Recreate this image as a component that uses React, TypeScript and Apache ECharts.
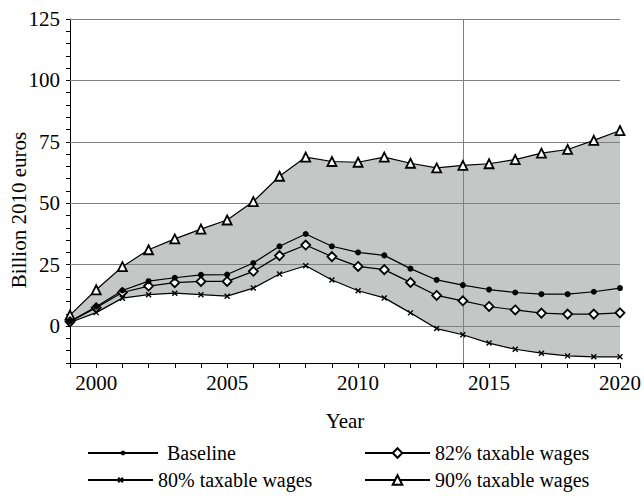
import React, { useEffect, useRef } from "react";
import * as echarts from "echarts";

const years = [1999, 2000, 2001, 2002, 2003, 2004, 2005, 2006, 2007, 2008, 2009, 2010, 2011, 2012, 2013, 2014, 2015, 2016, 2017, 2018, 2019, 2020];
const baseline = [2.0, 7.9, 14.5, 18.3, 19.7, 20.9, 21.0, 25.7, 32.5, 37.5, 32.5, 30.0, 28.8, 23.4, 18.8, 16.7, 14.9, 13.7, 13.0, 13.0, 14.0, 15.5];
const pct82 = [1.8, 7.5, 13.7, 16.3, 17.7, 18.2, 18.2, 22.3, 28.7, 33.0, 28.3, 24.3, 23.0, 17.8, 12.5, 10.3, 8.0, 6.6, 5.3, 4.9, 4.9, 5.4];
const pct80 = [1.5, 5.5, 11.4, 12.8, 13.4, 12.8, 12.2, 15.5, 21.2, 24.6, 18.8, 14.4, 11.5, 5.4, -1.0, -3.5, -6.9, -9.4, -11.0, -12.1, -12.5, -12.5];
const pct90 = [4.5, 14.8, 24.2, 31.1, 35.5, 39.5, 43.2, 50.7, 61.0, 68.8, 67.0, 66.7, 68.8, 66.3, 64.4, 65.4, 66.1, 67.8, 70.4, 71.9, 75.6, 79.6];
const gridValues = [0, 25, 50, 75, 100, 125];
const dividerYear = "2014";

const FONT = '"Liberation Serif", "Times New Roman", serif';

export default function App() {
  const ref = useRef<HTMLDivElement>(null);
  useEffect(() => {
    if (!ref.current) return;
    const chart = echarts.init(ref.current, null, { renderer: "svg" });
    const cats = years.map(String);
    const band = pct90.map((v, i) => +(v - pct80[i]).toFixed(2));
    const text = { fontFamily: FONT, fontSize: 21, color: "#000" };
    const legendText = { fontFamily: FONT, fontSize: 20, color: "#000" };
    const option: any = {
      animation: false,
      grid: { left: 70, right: 22, top: 19, bottom: 133 },
      xAxis: {
        type: "category",
        data: cats,
        boundaryGap: false,
        axisLine: { onZero: false, lineStyle: { color: "#000", width: 1 } },
        axisTick: { show: true, interval: 0, length: 5, lineStyle: { color: "#000" } },
        axisLabel: { ...text, interval: (_i: number, v: string) => Number(v) % 5 === 0, margin: 9 },
        splitLine: { show: false },
        name: "Year",
        nameLocation: "middle",
        nameGap: 47,
        nameTextStyle: text,
      },
      yAxis: {
        type: "value",
        min: -15,
        max: 125,
        interval: 5,
        axisLine: { show: true, lineStyle: { color: "#000", width: 1 } },
        axisTick: { show: true, length: 4, lineStyle: { color: "#000" } },
        axisLabel: { ...text, margin: 10, formatter: (v: number) => (v % 25 === 0 ? String(v) : "") },
        splitLine: { show: false },
      },
      graphic: [
        {
          type: "text",
          x: 19,
          y: 210,
          rotation: Math.PI / 2,
          style: { text: "Billion 2010 euros", font: '21px "Liberation Serif"', fill: "#000", align: "center", verticalAlign: "middle" },
        },
      ],
      legend: [
        { data: ["Baseline"], left: 87, top: 443, padding: 0, itemWidth: 70, itemHeight: 6, textStyle: { ...legendText, padding: [0, 0, 0, 4] } },
        { data: ["80% taxable wages"], left: 87, top: 470, padding: 0, itemWidth: 65, itemHeight: 6, textStyle: legendText },
        { data: ["82% taxable wages"], left: 364, top: 443, padding: 0, itemWidth: 65, itemHeight: 12, textStyle: legendText },
        { data: ["90% taxable wages"], left: 364, top: 470, padding: 0, itemWidth: 65, itemHeight: 12, textStyle: legendText },
      ],
      series: [
        {
          name: "bandBase",
          type: "line",
          data: pct80,
          stack: "band",
          stackStrategy: "all",
          symbol: "none",
          lineStyle: { opacity: 0 },
          silent: true,
          z: 1,
        },
        {
          name: "band",
          type: "line",
          data: band,
          stack: "band",
          stackStrategy: "all",
          symbol: "none",
          lineStyle: { opacity: 0 },
          areaStyle: { color: "#c5c6c6", opacity: 1 },
          silent: true,
          z: 1,
        },
        {
          name: "gridlines",
          type: "line",
          data: [],
          z: 2,
          silent: true,
          markLine: {
            z: 2,
            silent: true,
            symbol: ["none", "none"],
            label: { show: false },
            lineStyle: { color: "#808080", width: 1, type: "solid" },
            emphasis: { disabled: true },
            data: [...gridValues.map((v) => ({ yAxis: v })), { xAxis: dividerYear }],
          },
        },
        {
          name: "90% taxable wages",
          type: "line",
          data: pct90,
          z: 3,
          symbol: "triangle",
          symbolSize: 9,
          showAllSymbol: true,
          lineStyle: { color: "#000", width: 1.2 },
          itemStyle: { color: "#fff", borderColor: "#000", borderWidth: 1.8 },
        },
        {
          name: "80% taxable wages",
          type: "line",
          data: pct80,
          z: 3,
          symbol: "path://M0 0L10 10M10 0L0 10",
          symbolSize: 5,
          showAllSymbol: true,
          lineStyle: { color: "#000", width: 1.2 },
          itemStyle: { color: "#000", borderColor: "#000", borderWidth: 1.4 },
        },
        {
          name: "82% taxable wages",
          type: "line",
          data: pct82,
          z: 3,
          symbol: "diamond",
          symbolSize: 9,
          showAllSymbol: true,
          lineStyle: { color: "#000", width: 1.2 },
          itemStyle: { color: "#fff", borderColor: "#000", borderWidth: 1.8 },
        },
        {
          name: "Baseline",
          type: "line",
          data: baseline,
          z: 3,
          symbol: "circle",
          symbolSize: 6,
          showAllSymbol: true,
          lineStyle: { color: "#000", width: 1.2 },
          itemStyle: { color: "#000", borderColor: "#000", borderWidth: 0 },
        },
      ],
    };
    chart.setOption(option);
    return () => chart.dispose();
  }, []);
  return <div ref={ref} style={{ position: "absolute", left: 0, top: 0, width: 644, height: 496 }} />;
}
